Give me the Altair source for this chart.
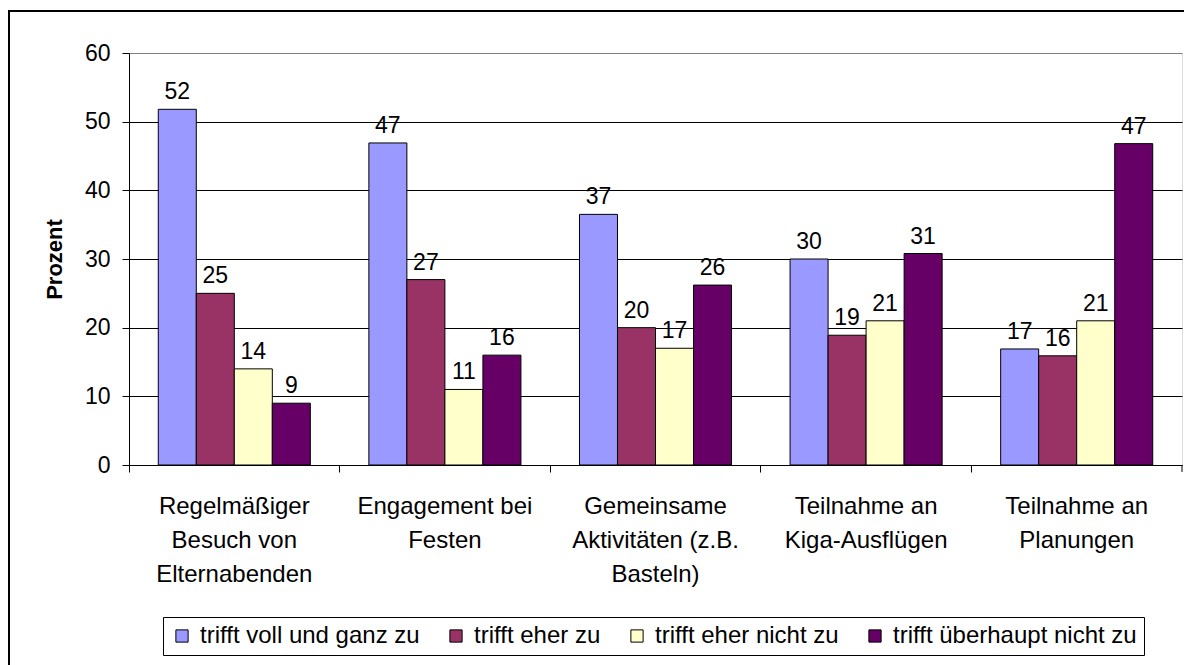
import altair as alt
import pandas as pd

categories = [
    "Regelmäßiger\nBesuch von\nElternabenden",
    "Engagement bei\nFesten",
    "Gemeinsame\nAktivitäten (z.B.\nBasteln)",
    "Teilnahme an\nKiga-Ausflügen",
    "Teilnahme an\nPlanungen",
]
series = [
    "trifft voll und ganz zu",
    "trifft eher zu",
    "trifft eher nicht zu",
    "trifft überhaupt nicht zu",
]
colors = ["#9999FF", "#993366", "#FFFFCC", "#660066"]

# bar heights (per series, per category)
voll_und_ganz = [51.8, 46.9, 36.5, 30.0, 16.9]
eher = [25.0, 27.0, 20.0, 18.9, 15.9]
eher_nicht = [14.0, 11.0, 17.0, 21.0, 21.0]
ueberhaupt_nicht = [9.0, 16.0, 26.2, 30.8, 46.8]

# printed data labels
lbl_voll_und_ganz = [52, 47, 37, 30, 17]
lbl_eher = [25, 27, 20, 19, 16]
lbl_eher_nicht = [14, 11, 17, 21, 21]
lbl_ueberhaupt_nicht = [9, 16, 26, 31, 47]

y_ticks = [0, 10, 20, 30, 40, 50, 60]

rows = []
for s, vals, lbls in zip(
    series,
    [voll_und_ganz, eher, eher_nicht, ueberhaupt_nicht],
    [lbl_voll_und_ganz, lbl_eher, lbl_eher_nicht, lbl_ueberhaupt_nicht],
):
    for c, v, l in zip(categories, vals, lbls):
        rows.append({"Kategorie": c, "Antwort": s, "Wert": v, "Label": str(l)})
df = pd.DataFrame(rows)

W = 1053
H = 412
FONT = "Liberation Sans"

x_enc = alt.X(
    "Kategorie:N",
    sort=categories,
    scale=alt.Scale(paddingInner=0, paddingOuter=0),
    axis=alt.Axis(
        title=None,
        labelAngle=0,
        labelExpr="split(datum.label, '\\n')",
        labelFontSize=24,
        labelLineHeight=34,
        labelColor="black",
        labelFont=FONT,
        labelBaseline="top",
        labelPadding=22,
        bandPosition=0,
        ticks=True,
        tickSize=7,
        tickColor="black",
        domainColor="black",
        grid=False,
        labelBound=False,
        labelOverlap=False,
        labelLimit=0,
    ),
)
xoff_enc = alt.XOffset(
    "Antwort:N", sort=series, scale=alt.Scale(paddingInner=0, paddingOuter=0.77)
)
y_enc = alt.Y(
    "Wert:Q",
    scale=alt.Scale(domain=[0, 60], nice=False),
    axis=alt.Axis(
        title="Prozent",
        titleFontSize=22,
        titleFont=FONT,
        titleFontWeight="bold",
        titleColor="black",
        titlePadding=18,
        values=y_ticks,
        labelFontSize=23,
        labelFont=FONT,
        labelColor="black",
        labelPadding=12,
        tickSize=7,
        tickColor="black",
        domainColor="black",
        grid=True,
        gridColor={"condition": {"test": "datum.value >= 60", "value": "#808080"}, "value": "black"},
        gridWidth=1,
    ),
)

bars = alt.Chart(df).mark_bar(stroke="black", strokeWidth=1).encode(
    x=x_enc,
    xOffset=xoff_enc,
    y=y_enc,
    color=alt.Color(
        "Antwort:N",
        sort=series,
        scale=alt.Scale(domain=series, range=colors),
        legend=alt.Legend(
            title=None,
            orient="none",
            legendX=34,
            legendY=564,
            direction="horizontal",
            columns=4,
            symbolType="square",
            symbolSize=150,
            symbolStrokeColor="black",
            symbolStrokeWidth=1,
            labelFontSize=24,
            labelFont=FONT,
            labelColor="black",
            labelLimit=0,
            labelOffset=6,
            columnPadding=24,
            padding=7,
            strokeColor="black",
            fillColor="white",
        ),
    ),
)

texts = alt.Chart(df).mark_text(
    baseline="alphabetic", dy=-10, fontSize=23, font=FONT, color="black"
).encode(
    x=alt.X("Kategorie:N", sort=categories),
    xOffset=alt.XOffset("Antwort:N", sort=series),
    y=alt.Y("Wert:Q"),
    text="Label:N",
)

end_tick = alt.Chart(pd.DataFrame({"a": [0]})).mark_rule(color="black").encode(
    x=alt.value(W), y=alt.value(H), y2=alt.value(H + 7)
)

outer = alt.Chart(pd.DataFrame({"a": [0]})).mark_rect(
    fill=None, fillOpacity=0, stroke="black", strokeWidth=2
).encode(
    x=alt.value(-120), x2=alt.value(W + 60), y=alt.value(-42), y2=alt.value(H + 300)
)

chart = (
    alt.layer(bars, texts, end_tick, outer)
    .properties(
        width=W,
        height=H,
        autosize=alt.AutoSizeParams(type="none"),
        padding={"left": 121, "top": 45, "right": 2, "bottom": 200},
    )
    .configure_view(stroke="#808080", strokeWidth=1)
    .configure(font=FONT)
)

chart.save("out.html", embed_options={"renderer": "svg", "actions": False})
